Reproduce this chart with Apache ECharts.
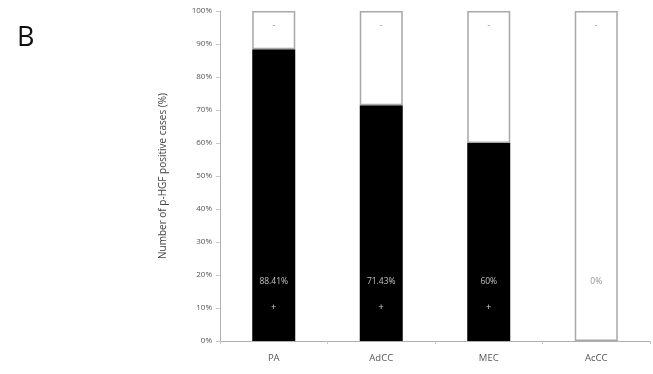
<!DOCTYPE html>
<html><head><meta charset="utf-8">
<script src="https://cdn.jsdelivr.net/npm/echarts@6/dist/echarts.min.js"></script>
<style>html,body{margin:0;padding:0;background:#fff}#c{width:653px;height:374px}</style>
</head><body><div id="c"></div>
<script>
const categories = ['PA', 'AdCC', 'MEC', 'AcCC'];
const positive = [88.41, 71.43, 60, 0];
const negative = [11.59, 28.57, 40, 100];
const pctLabels = ['88.41%', '71.43%', '60%', '0%'];

const chart = echarts.init(document.getElementById('c'));
const font = 'Open Sans';
chart.setOption({
  animation: false,
  graphic: [{type:'text', left: 17, top: 25, style:{text:'B', font:'27px "Open Sans"', fill:'#111'}}],
  grid: {left: 220, right: 3, top: 11, bottom: 33},
  xAxis: {
    type: 'category', data: categories,
    axisLine: {lineStyle: {color: '#b0b0b0'}},
    axisTick: {show: true, length: 3, lineStyle: {color: '#c8c8c8'}},
    axisLabel: {color: '#555', fontSize: 9.5, fontFamily: font, margin: 12}
  },
  yAxis: {
    type: 'value', min: 0, max: 100, interval: 10,
    name: 'Number of p-HGF positive cases (%)', nameLocation: 'middle', nameGap: 52,
    nameTextStyle: {color: '#444', fontSize: 10, fontFamily: font},
    axisLine: {show: true, lineStyle: {color: '#b0b0b0'}},
    axisTick: {show: true, length: 4, inside: false, lineStyle: {color: '#c8c8c8'}},
    splitLine: {show: false},
    axisLabel: {color: '#555', fontSize: 8, fontFamily: font, margin: 8, formatter: v => v + '%'}
  },
  series: [
    {type: 'bar', stack: 's', data: positive, barWidth: 43,
     itemStyle: {color: '#000', borderWidth: 0}},
    {type: 'bar', stack: 's', data: negative, barWidth: 43,
     itemStyle: {color: '#fff', borderColor: '#a8a8a8', borderWidth: 1.5},
     label: {show: true, position: 'insideTop', distance: 10, formatter: '-', color: '#999', fontSize: 9}},
    {type: 'scatter', symbolSize: 0, silent: true,
     data: categories.map((c,i)=>({value:[i, 18], label:{color: positive[i] > 20 ? '#eee' : '#777'}})),
     label: {show: true, position: 'inside', formatter: p => pctLabels[p.dataIndex], fontSize: 8.5, fontFamily: font}},
    {type: 'scatter', symbolSize: 0, data: categories.slice(0,3).map((c,i)=>[i, 10]), silent: true,
     label: {show: true, position: 'inside', formatter: '+', color: '#fff', fontSize: 9}}
  ]
});
</script></body></html>
